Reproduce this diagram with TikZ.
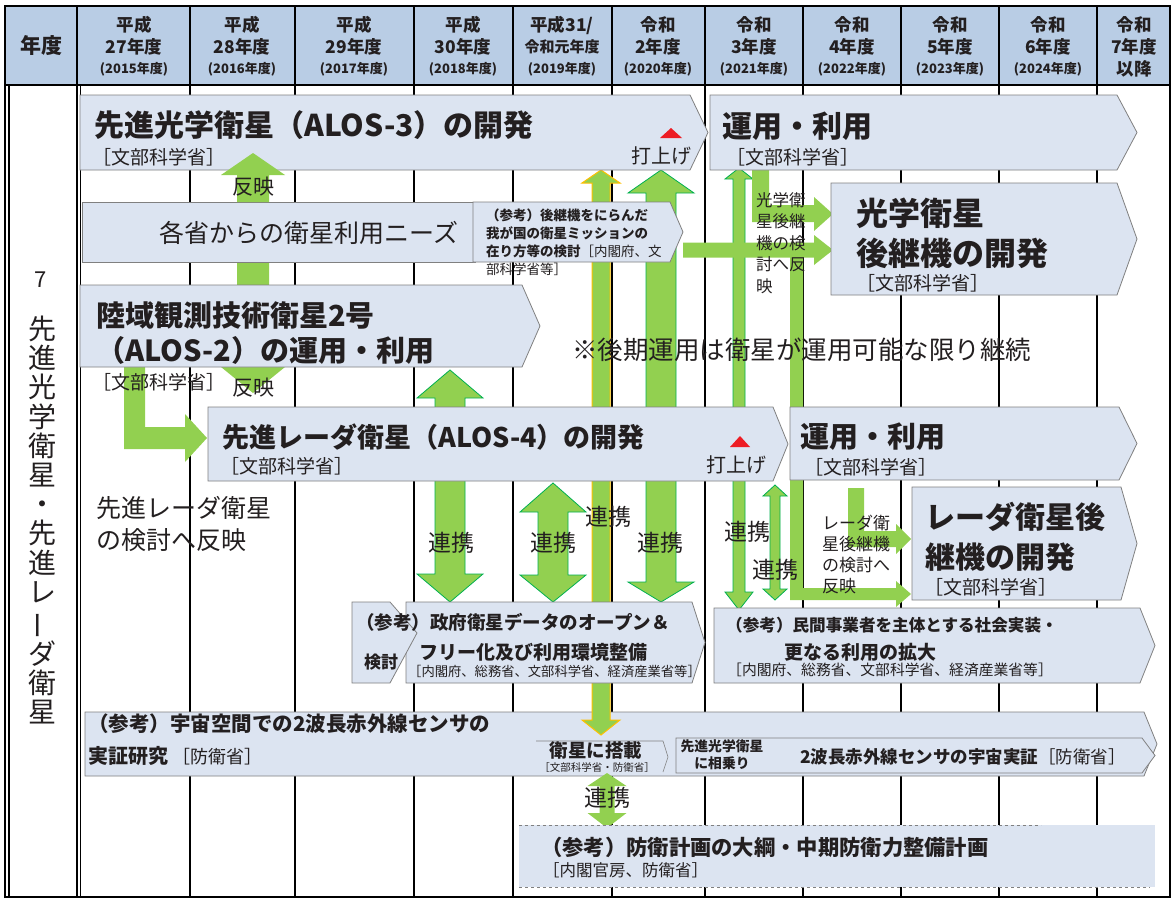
\documentclass[tikz,border=0pt]{standalone}
\usepackage{fontspec}
\setmainfont{Noto Sans CJK JP}
\definecolor{boxfill}{RGB}{220,228,241}
\definecolor{boxline}{RGB}{128,128,128}
\definecolor{headfill}{RGB}{185,205,229}
\definecolor{agreen}{RGB}{146,208,80}
\definecolor{gline}{RGB}{0,176,80}
\definecolor{yline}{RGB}{255,192,0}
\definecolor{txt}{RGB}{35,31,32}
\definecolor{launch}{RGB}{237,28,36}
\newcommand\FS[1]{\fontsize{#1}{#1}\selectfont}
\newcommand\FSL[2]{\fontsize{#1}{#2}\selectfont}
\newcommand\pentbox[6][box]{\draw[#1] (#2,#3) -- (#4,#3) -- (#6,{(#3+#5)/2}) -- (#4,#5) -- (#2,#5) -- cycle;}
\newcommand\blkv[7][grnf]{\draw[#1] (#2,#3) -- ({#2+#6},{#3+(#7)}) -- ({#2+#5},{#3+(#7)}) -- ({#2+#5},#4) -- ({#2-#5},#4) -- ({#2-#5},{#3+(#7)}) -- ({#2-#6},{#3+(#7)}) -- cycle;}
\newcommand\blkvv[8][grn]{\draw[#1] (#2,#3) -- ({#2+#6},{#3+#7}) -- ({#2+#5},{#3+#7}) -- ({#2+#5},{#4-#8}) -- ({#2+#6},{#4-#8}) -- (#2,#4) -- ({#2-#6},{#4-#8}) -- ({#2-#5},{#4-#8}) -- ({#2-#5},{#3+#7}) -- ({#2-#6},{#3+#7}) -- cycle;}
\newcommand\blkh[7][grnf]{\draw[#1] (#3,{#2-#5}) -- ({#4-#7},{#2-#5}) -- ({#4-#7},{#2-#6}) -- (#4,#2) -- ({#4-#7},{#2+#6}) -- ({#4-#7},{#2+#5}) -- (#3,{#2+#5}) -- cycle;}
\newcommand\hcol[5]{%
  \node[hd,font=\bfseries\FS{17.5}] (#1a) at (#2,25) {#3};
  \node[hd,font=\bfseries\FS{17.5}] (#1b) at (#2,47) {#4};
  \node[hd,font=\bfseries\FS{13}] (#1c) at (#2,69) {#5};}
\begin{document}
\begin{tikzpicture}[x=1pt,y=-1pt,
  box/.style={fill=boxfill,draw=boxline,line width=0.8},
  grn/.style={fill=agreen,draw=gline,line width=0.8},
  grnf/.style={fill=agreen,draw=none},
  yel/.style={fill=agreen,draw=yline,line width=1},
  gridl/.style={draw=black,line width=1.1},
  hd/.style={inner sep=0,text=txt},
  lbl/.style={anchor=west,inner sep=0,text=txt},
  ctr/.style={inner sep=0,text=txt}]
\useasboundingbox (0,0) rectangle (1173,899);
\fill[white] (0,0) rectangle (1173,899);
\fill[headfill] (5,6) rectangle (1170,85);
% grid
\foreach \gx in {190,295,414,513,612,705,803,901,999,1097} {\draw[gridl] (\gx,6) -- (\gx,897);}
\draw[gridl] (77,6) -- (77,897);
\draw[gridl] (80.5,85) -- (80.5,897);
\draw[gridl] (9,85) -- (9,897);
% bottom reference bar
\pentbox{85}{712}{1144}{776}{1157}
% arrows beneath boxes
\blkv{253}{393}{262}{16}{32}{-26}
\draw[grnf] (124,360) -- (145,360) -- (145,427) -- (185,427) -- (185,414) -- (207,438) -- (185,462) -- (185,449) -- (124,449) -- cycle;
\blkvv{450}{370}{602}{15}{33}{28}{28}
\blkvv{553}{483}{602}{15}{33}{29}{27}
\blkvv[yel]{601}{170}{735}{9}{19}{13}{15}
\blkvv{661}{170}{602}{15}{33}{23}{20}
\blkvv{739}{168}{610}{6}{14}{11}{18}
\blkvv{775}{485}{600}{5}{12}{11}{11}
\draw[grnf] (752,165) -- (769,165) -- (769,205) -- (814,205) -- (814,197) -- (833,214) -- (814,231) -- (814,222) -- (752,222) -- cycle;
\blkh{250}{683}{833}{7.5}{15}{19}
\draw[grnf] (790,250) -- (803,250) -- (803,588) -- (896,588) -- (896,581) -- (911,594) -- (896,607) -- (896,600) -- (790,600) -- cycle;
\draw[grnf] (848,488) -- (864,488) -- (864,531) -- (896,531) -- (896,524) -- (911,539) -- (896,554) -- (896,547) -- (848,547) -- cycle;
\blkvv[grnf]{607}{773}{828}{7.5}{19.5}{13}{15}
% boxes
\pentbox{80}{95}{690}{170}{708}
\pentbox{710}{95}{1117}{170}{1137}
\draw[box] (82,202) rectangle (475,262);
\pentbox{473}{202}{670}{262}{683}
\pentbox{831}{183}{1117}{295}{1137}
\pentbox{80}{285}{522}{367}{540}
\pentbox{208}{407}{773}{481}{788}
\pentbox{790}{407}{1119}{480}{1137}
\pentbox{912}{487}{1121}{600}{1137}
\pentbox{406}{602}{692}{683}{705}
\draw[box] (352,602) -- (390,602) -- (417,633) -- (390,683) -- (352,683) -- cycle;
\pentbox{714}{608}{1140}{683}{1155}
\pentbox{676}{738}{1142}{773}{1155}
\draw[boxline,line width=0.6] (536,741) -- (663,741) -- (668,757) -- (663,772);
\fill[boxfill] (519,825) rectangle (1155,887);
\draw[boxline,dashed,line width=0.8] (519,825) -- (1041,825);
\draw[boxline,dashed,line width=0.8] (519,887) -- (1150,887);
% arrow over box
\blkv{253}{153}{202}{16}{32}{22}
\fill[launch] (660,138) -- (682,138) -- (671,128) -- cycle;
\fill[launch] (730,447) -- (750,447) -- (740,436) -- cycle;
% header text
\node[hd,font=\bfseries\FS{21}] (hY) at (41,46) {年度};
\hcol{h1}{134}{平成}{27年度}{(2015年度)}
\hcol{h2}{242}{平成}{28年度}{(2016年度)}
\hcol{h3}{354}{平成}{29年度}{(2017年度)}
\hcol{h4}{463}{平成}{30年度}{(2018年度)}
\node[hd,font=\bfseries\FS{17.5}] (h5a) at (562,25) {平成31/};
\node[hd,font=\bfseries\FS{15}] (h5b) at (562,47) {令和元年度};
\node[hd,font=\bfseries\FS{13}] (h5c) at (562,69) {(2019年度)};
\hcol{h6}{658}{令和}{2年度}{(2020年度)}
\hcol{h7}{754}{令和}{3年度}{(2021年度)}
\hcol{h8}{852}{令和}{4年度}{(2022年度)}
\hcol{h9}{950}{令和}{5年度}{(2023年度)}
\hcol{h10}{1048}{令和}{6年度}{(2024年度)}
\node[hd,font=\bfseries\FS{17.5}] (h11a) at (1134,25) {令和};
\node[hd,font=\bfseries\FS{17.5}] (h11b) at (1134,47) {7年度};
\node[hd,font=\bfseries\FS{17.5}] (h11c) at (1134,69) {以降};
% left column
\node[ctr,font=\FS{22}] (seven) at (41,280) {7};
\node[ctr,align=center,font=\FSL{28}{29.2}] (vtitle) at (42,520) {先\\進\\光\\学\\衛\\星\\・\\先\\進\\レ\\\rotatebox[origin=c]{90}{ー}\\ダ\\衛\\星};
% ALOS-3
\node[lbl,font=\bfseries\FS{30}] (a3t) at (94,125) {先進光学衛星（ALOS-3）の開発};
\node[lbl,font=\FS{19}] (a3m) at (92,157) {［文部科学省］};
\node[ctr,font=\FS{20}] (l3) at (661,156) {打上げ};
\node[lbl,font=\bfseries\FS{30}] (o3t) at (722,126) {運用・利用};
\node[lbl,font=\FS{19}] (o3m) at (726,157) {［文部科学省］};
\node[ctr,font=\FS{21}] (r1) at (253,187) {反映};
\node[ctr,font=\FS{25}] (needs) at (309,233) {各省からの衛星利用ニーズ};
\node[lbl,anchor=north west,align=left,font=\FSL{13.5}{18}] (succ) at (486,209) {\textbf{（参考）後継機をにらんだ}\\\textbf{我が国の衛星ミッションの}\\\textbf{在り方等の検討}［内閣府、文\\部科学省等］};
\node[lbl,anchor=north west,align=left,font=\FSL{16.5}{21.5}] (optref) at (756,192) {光学衛\\星後継\\機の検\\討へ反\\映};
\node[lbl,font=\bfseries\FS{32}] (op1) at (856,213) {光学衛星};
\node[lbl,font=\bfseries\FS{32}] (op2) at (856,253) {後継機の開発};
\node[lbl,font=\FS{19}] (opm) at (856,283) {［文部科学省］};
% ALOS-2
\node[lbl,font=\bfseries\FS{29}] (a2t1) at (96,315) {陸域観測技術衛星2号};
\node[lbl,font=\bfseries\FS{29}] (a2t2) at (96,350) {（ALOS-2）の運用・利用};
\node[lbl,font=\FS{19}] (a2m) at (92,382) {［文部科学省］};
\node[ctr,font=\FS{21}] (r2) at (253,388) {反映};
\node[lbl,font=\FS{25.5}] (note) at (572,350) {※後期運用は衛星が運用可能な限り継続};
% ALOS-4
\node[lbl,font=\bfseries\FS{27}] (a4t) at (222,437) {先進レーダ衛星（ALOS-4）の開発};
\node[lbl,font=\FS{19}] (a4m) at (220,466) {［文部科学省］};
\node[ctr,font=\FS{20}] (l4) at (736,465) {打上げ};
\node[lbl,font=\bfseries\FS{29}] (o4t) at (800,437) {運用・利用};
\node[lbl,font=\FS{19}] (o4m) at (804,467) {［文部科学省］};
\node[lbl,font=\FS{25}] (rad1) at (96,508) {先進レーダ衛星};
\node[lbl,font=\FS{25}] (rad2) at (96,540) {の検討へ反映};
\node[lbl,anchor=north west,align=left,font=\FSL{17}{21}] (radref) at (822,515) {レーダ衛\\星後継機\\の検討へ\\反映};
\node[lbl,font=\bfseries\FS{30}] (rt1) at (925,517) {レーダ衛星後};
\node[lbl,font=\bfseries\FS{30}] (rt2) at (925,557) {継機の開発};
\node[lbl,font=\FS{19}] (rtm) at (924,587) {［文部科学省］};
% 連携 labels
\node[ctr,font=\FS{23}] (c1) at (451,543) {連携};
\node[ctr,font=\FS{23}] (c2) at (553,543) {連携};
\node[ctr,font=\FS{23}] (c3) at (608,517) {連携};
\node[ctr,font=\FS{23}] (c4) at (660,543) {連携};
\node[ctr,font=\FS{23}] (c5) at (747,532) {連携};
\node[ctr,font=\FS{23}] (c6) at (775,570) {連携};
\node[ctr,font=\FS{23}] (c7) at (607,798) {連携};
% gov data
\node[lbl,font=\bfseries\FS{18.5}] (gov1) at (356,622) {（参考）政府衛星データのオープン＆};
\node[lbl,font=\bfseries\FS{19}] (gov2) at (419,652) {フリー化及び利用環境整備};
\node[lbl,font=\FS{13.3}] (gov3) at (408,671) {［内閣府、総務省、文部科学省、経済産業省等］};
\node[lbl,font=\bfseries\FS{17}] (kento) at (364,662) {検討};
% private
\node[lbl,font=\bfseries\FS{16.6}] (pv1) at (726,625) {（参考）民間事業者を主体とする社会実装・};
\node[lbl,font=\bfseries\FS{19}] (pv2) at (784,652) {更なる利用の拡大};
\node[lbl,font=\FS{14.8}] (pv3) at (727,670) {［内閣府、総務省、文部科学省、経済産業省等］};
% space IR
\node[lbl,font=\bfseries\FS{20.5}] (sp1) at (88,724) {（参考）宇宙空間での2波長赤外線センサの};
\node[lbl,font=\FS{18}] (sp2) at (88,756) {{\bfseries\FS{20}実証研究}\ ［防衛省］};
\node[ctr,font=\bfseries\FS{18.5}] (mt1) at (596,750) {衛星に搭載};
\node[ctr,font=\FS{10.5}] (mt2) at (597,768) {［文部科学省・防衛省］};
\node[ctr,font=\bfseries\FS{13.8}] (ride1) at (722,746) {先進光学衛星};
\node[ctr,font=\bfseries\FS{13.8}] (ride2) at (722,763) {に相乗り};
\node[lbl,font=\FS{17.5}] (ir) at (800,757) {{\bfseries 2波長赤外線センサの宇宙実証}［防衛省］};
% defense
\node[lbl,font=\bfseries\FS{21.3}] (def1) at (541,847) {（参考）防衛計画の大綱・中期防衛力整備計画};
\node[lbl,font=\FS{16.5}] (def2) at (543,870) {［内閣官房、防衛省］};
% frame
\draw[line width=1.8] (5,85) -- (1170,85);
\draw[line width=2] (5,6) rectangle (1170,897);
\end{tikzpicture}
\end{document}
